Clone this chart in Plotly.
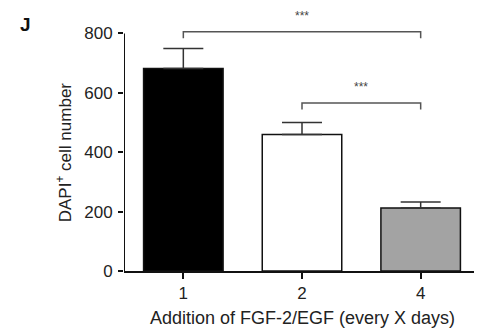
import plotly.graph_objects as go

# Data
categories = ["1", "2", "4"]
means = [682, 460, 212]
sem = [67, 40, 20]
bar_colors = ["#000000", "#ffffff", "#a3a3a3"]
sig_labels = ["***", "***"]
y_ticks = [0, 200, 400, 600, 800]

xpos = list(range(len(categories)))

fig = go.Figure()
fig.add_trace(go.Bar(
    x=xpos, y=means, width=0.67,
    marker=dict(color=bar_colors, line=dict(color="#111111", width=1.5)),
    error_y=dict(type="data", symmetric=False, array=sem, arrayminus=[0]*len(sem),
                 color="#333333", thickness=1.5, width=20),
    showlegend=False,
))

font_fam = "Liberation Sans, Arial, sans-serif"
txt = "#222222"

# y axis line only up to 800
fig.add_shape(type="line", xref="x", yref="y", x0=-0.5, x1=-0.5, y0=0, y1=800,
              line=dict(color="#111111", width=2))

# significance brackets
def bracket(i0, i1, yv, label):
    d = 22
    fig.add_shape(type="path", xref="x", yref="y",
                  path=f"M {xpos[i0]},{yv-d} L {xpos[i0]},{yv} L {xpos[i1]},{yv} L {xpos[i1]},{yv-d}",
                  line=dict(color="#555555", width=1.5))
    fig.add_annotation(x=(xpos[i0]+xpos[i1])/2, y=yv, xref="x", yref="y", text=label,
                       showarrow=False, yanchor="bottom", yshift=7,
                       font=dict(size=12, color="#444444", family=font_fam))

bracket(0, 2, 806, sig_labels[0])
bracket(1, 2, 566, sig_labels[1])

fig.add_annotation(text="<b>J</b>", xref="paper", yref="paper", x=-0.298, y=0.943,
                   xanchor="left", yanchor="middle", showarrow=False,
                   font=dict(size=19, color="#111111", family=font_fam))

fig.add_annotation(text="DAPI<sup>+</sup> cell number", xref="paper", yref="y",
                   x=-0.1685, y=400, textangle=-90, showarrow=False,
                   xanchor="center", yanchor="middle",
                   font=dict(size=17, color=txt, family=font_fam))

fig.add_annotation(text="Addition of FGF-2/EGF (every X days)", xref="paper", yref="paper",
                   x=0.5, y=-0.18, showarrow=False, xanchor="center", yanchor="middle",
                   font=dict(size=18, color=txt, family=font_fam))

fig.update_layout(
    width=474, height=323,
    margin=dict(l=116, r=2, t=2, b=60, autoexpand=False),
    plot_bgcolor="white", paper_bgcolor="white",
    font=dict(family=font_fam, size=17, color=txt),
    xaxis=dict(range=[-0.5, 2.5], tickvals=xpos, ticktext=categories,
               showline=True, linecolor="#111111", linewidth=2,
               ticks="outside", ticklen=6, tickwidth=2, tickcolor="#111111",
               showgrid=False, zeroline=False),
    yaxis=dict(range=[0, 879], tickvals=y_ticks, showline=False,
               ticks="outside", ticklen=5, tickwidth=2, tickcolor="#111111",
               showgrid=False, zeroline=False, ticklabelstandoff=2),
)

fig.write_html("out.html")
